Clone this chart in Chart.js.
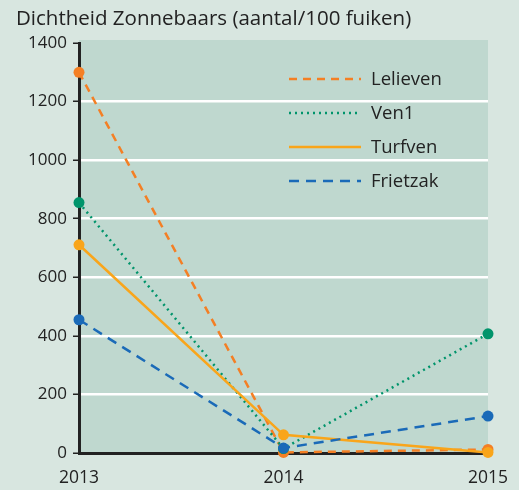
<!DOCTYPE html>
<html>
<head>
<meta charset="utf-8">
<script src="https://cdn.jsdelivr.net/npm/chart.js@4"></script>
<style>
  html, body { margin: 0; padding: 0; background: #d8e6e0; }
  #wrap { width: 519px; height: 490px; }
</style>
</head>
<body>
<div id="wrap"><canvas id="zonnebaars" width="519" height="490"></canvas></div>
<script>
const years = ['2013', '2014', '2015'];
const lelieven = [1300, 2, 12];
const ven1 = [855, 15, 407];
const turfven = [711, 62, 2];
const frietzak = [455, 17, 126];
const yTicks = [0, 200, 400, 600, 800, 1000, 1200, 1400];

const FONT = '"Open Sans", Lato, sans-serif';
const INK = '#222222';

// plot background + title + legend drawn by hand
const decor = {
  id: 'decor',
  beforeDraw(chart) {
    const { ctx, chartArea: a } = chart;
    ctx.save();
    ctx.fillStyle = '#bfd8cf';
    ctx.fillRect(a.left, 40, a.right - a.left, a.bottom - 40);
    ctx.restore();
  },
  afterDraw(chart) {
    const ctx = chart.ctx;
    ctx.save();
    ctx.fillStyle = INK;
    ctx.font = '20.5px ' + FONT;
    ctx.textBaseline = 'middle';
    ctx.fillText('Dichtheid Zonnebaars (aantal/100 fuiken)', 16, 19);

    ctx.font = '18.5px ' + FONT;
    chart.data.datasets.forEach((ds, i) => {
      const y = 79 + i * 34;
      ctx.beginPath();
      ctx.strokeStyle = ds.borderColor;
      ctx.lineWidth = 2.5;
      ctx.setLineDash(ds.borderDash || []);
      ctx.moveTo(289, y);
      ctx.lineTo(361, y);
      ctx.stroke();
      ctx.setLineDash([]);
      ctx.fillStyle = INK;
      ctx.fillText(ds.label, 371, y + 1);
    });
    ctx.restore();
  }
};

function series(label, data, color, dash, order) {
  return {
    label: label,
    data: data,
    borderColor: color,
    backgroundColor: color,
    borderWidth: 2.5,
    borderDash: dash,
    pointRadius: 5.5,
    pointHoverRadius: 5.5,
    pointBorderWidth: 0,
    tension: 0,
    clip: false,
    order: order
  };
}

new Chart(document.getElementById('zonnebaars'), {
  type: 'line',
  data: {
    labels: years,
    datasets: [
      series('Lelieven', lelieven, '#f47f24', [8, 6], 4),
      series('Ven1', ven1, '#00946b', [2, 4], 3),
      series('Turfven', turfven, '#f9a51a', [], 2),
      series('Frietzak', frietzak, '#1a6ab8', [10, 7], 1)
    ]
  },
  options: {
    responsive: false,
    animation: false,
    events: [],
    layout: { padding: { left: 0, right: 31, top: 43, bottom: 0 } },
    plugins: {
      legend: { display: false },
      title: { display: false },
      tooltip: { enabled: false }
    },
    scales: {
      x: {
        offset: false,
        grid: { display: false, drawTicks: false },
        border: { display: true, color: INK, width: 3 },
        ticks: { color: INK, font: { family: FONT, size: 17.5 }, padding: 15, maxRotation: 0 },
        afterFit(s) {
          s.height = 37;
          s.paddingLeft = 0;
          s.paddingRight = 0;
        }
      },
      y: {
        min: 0,
        max: 1400,
        afterBuildTicks(s) { s.ticks = yTicks.map(v => ({ value: v })); },
        grid: {
          color: c => (c.tick && c.tick.value > 0 && c.tick.value < 1400) ? '#ffffff' : 'rgba(0,0,0,0)',
          lineWidth: 2.5,
          tickColor: INK,
          tickLength: 6,
          tickWidth: 1.5
        },
        border: { display: true, color: INK, width: 3 },
        ticks: {
          color: INK,
          font: { family: FONT, size: 17 },
          padding: 6,
          callback: v => String(v)
        },
        afterFit(s) { s.width = 79; }
      }
    }
  },
  plugins: [decor]
});
</script>
</body>
</html>
